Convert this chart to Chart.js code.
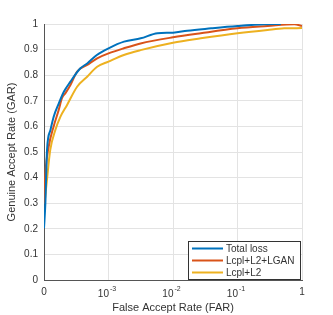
<!DOCTYPE html>
<html>
<head>
<meta charset="utf-8">
<script src="https://cdn.jsdelivr.net/npm/chart.js@4"></script>
<style>
  html, body { margin: 0; padding: 0; background: #fff; }
  #wrap { width: 333px; height: 315px; }
</style>
</head>
<body>
<div id="wrap"><canvas id="roc" width="333" height="315"></canvas></div>
<script>
// ROC curves (FAR on a log axis, 1e-4 shown as "0")
const seriesNames = ['Total loss', 'Lcpl+L2+LGAN', 'Lcpl+L2'];
const seriesColors = ['#0072BD', '#D95319', '#EDB120'];

const totalFar = [1e-4, 1.05e-4, 1.114e-4, 1.259e-4, 1.413e-4, 1.698e-4, 2.04e-4, 2.57e-4, 3.67e-4, 4.68e-4, 6.6e-4, 1e-3, 1.74e-3, 3.16e-3, 5.75e-3, 1e-2, 1.66e-2, 3.9e-2, 0.1, 0.257, 0.47];
const totalGar = [0.202, 0.30, 0.508, 0.586, 0.638, 0.69, 0.736, 0.775, 0.827, 0.846, 0.879, 0.905, 0.931, 0.944, 0.964, 0.966, 0.974, 0.983, 0.992, 0.999, 1.0];

const ganFar = [1e-4, 1.05e-4, 1.18e-4, 1.41e-4, 1.69e-4, 1.9e-4, 2.15e-4, 2.57e-4, 3.26e-4, 4.67e-4, 6.67e-4, 1e-3, 1.73e-3, 3.14e-3, 1e-2, 2.69e-2, 0.1, 0.292, 0.76, 1];
const ganGar = [0.30, 0.417, 0.52, 0.60, 0.664, 0.71, 0.73, 0.762, 0.814, 0.84, 0.866, 0.885, 0.905, 0.924, 0.948, 0.964, 0.983, 0.992, 0.999, 0.992];

const l2Far = [1.02e-4, 1.11e-4, 1.25e-4, 1.5e-4, 1.8e-4, 2.28e-4, 3.26e-4, 4.67e-4, 6.67e-4, 1e-3, 1.73e-3, 3.14e-3, 1e-2, 2.69e-2, 0.1, 0.292, 0.53, 1];
const l2Gar = [0.30, 0.39, 0.508, 0.586, 0.638, 0.684, 0.755, 0.794, 0.833, 0.853, 0.879, 0.898, 0.927, 0.944, 0.964, 0.977, 0.983, 0.984];

const xTickValues = [1e-4, 1e-3, 1e-2, 1e-1, 1];
// [base, exponent]; no exponent means a plain label
const xTickLabels = [['0', ''], ['10', '-3'], ['10', '-2'], ['10', '-1'], ['1', '']];

const pts = (xs, ys) => xs.map((x, i) => ({ x: x, y: ys[i] }));
const farData = [pts(totalFar, totalGar), pts(ganFar, ganGar), pts(l2Far, l2Gar)];

const FONT = 'Liberation Sans, Arial, sans-serif';
const TEXT = '#333';

// x tick labels with real superscripts (10^-3 ...)
const powerTicks = {
  id: 'powerTicks',
  afterDraw(chart) {
    const ctx = chart.ctx;
    const sx = chart.scales.x;
    ctx.save();
    ctx.fillStyle = TEXT;
    ctx.textBaseline = 'alphabetic';
    xTickValues.forEach((v, i) => {
      const px = sx.getPixelForValue(v);
      const [base, exp] = xTickLabels[i];
      if (!exp) {
        ctx.font = '10px ' + FONT;
        ctx.textAlign = 'center';
        ctx.fillText(base, px, 295);
        return;
      }
      ctx.font = '10px ' + FONT;
      const wb = ctx.measureText(base).width;
      ctx.font = '7px ' + FONT;
      const we = ctx.measureText(exp).width;
      const left = px - (wb + we) / 2 - 2;
      ctx.textAlign = 'left';
      ctx.font = '10px ' + FONT;
      ctx.fillText(base, left, 297);
      ctx.font = '7px ' + FONT;
      ctx.fillText(exp, left + wb + 1, 291);
    });
    ctx.restore();
  }
};

// legend drawn inside the plot, bottom right, like the MATLAB one
const boxLegend = {
  id: 'boxLegend',
  afterDraw(chart) {
    const ctx = chart.ctx;
    const x0 = 188.5, y0 = 241.5, w = 112, h = 38;
    ctx.save();
    ctx.fillStyle = '#fff';
    ctx.fillRect(x0, y0, w, h);
    ctx.strokeStyle = '#333';
    ctx.lineWidth = 1;
    ctx.strokeRect(x0, y0, w, h);
    ctx.font = '10px ' + FONT;
    ctx.textBaseline = 'middle';
    chart.data.datasets.forEach((ds, i) => {
      const y = 248.5 + i * 12;
      ctx.strokeStyle = ds.borderColor;
      ctx.lineWidth = 2;
      ctx.beginPath();
      ctx.moveTo(192, y);
      ctx.lineTo(223, y);
      ctx.stroke();
      ctx.fillStyle = TEXT;
      ctx.fillText(ds.label, 226, y + 0.5);
    });
    ctx.restore();
  }
};

new Chart(document.getElementById('roc').getContext('2d'), {
  type: 'line',
  data: {
    datasets: seriesNames.map((name, i) => ({
      label: name,
      data: farData[i],
      borderColor: seriesColors[i],
      backgroundColor: seriesColors[i],
      borderWidth: 2,
      pointRadius: 0,
      cubicInterpolationMode: 'monotone',
      fill: false
    }))
  },
  options: {
    responsive: false,
    animation: false,
    layout: { padding: { top: 24, right: 31, left: 0, bottom: 0 } },
    plugins: { legend: { display: false }, tooltip: { enabled: false } },
    scales: {
      x: {
        type: 'logarithmic',
        min: 1e-4,
        max: 1,
        afterBuildTicks: s => { s.ticks = xTickValues.map(v => ({ value: v })); },
        afterFit: s => { s.height = 35; },
        grid: { color: '#e3e3e3', drawTicks: false },
        border: { color: '#555' },
        ticks: { display: false },
        title: {
          display: true,
          text: 'False Accept Rate (FAR)',
          color: TEXT,
          font: { family: FONT, size: 11 },
          padding: { top: 2, bottom: 0 }
        }
      },
      y: {
        min: 0,
        max: 1,
        afterFit: s => { s.width = 44; },
        grid: { color: '#e3e3e3', drawTicks: false },
        border: { color: '#555' },
        ticks: {
          stepSize: 0.1,
          padding: 6,
          color: TEXT,
          font: { family: FONT, size: 10 },
          callback: v => String(+v.toFixed(1))
        },
        title: {
          display: true,
          text: 'Genuine Accept Rate (GAR)',
          color: TEXT,
          font: { family: FONT, size: 11 },
          padding: { top: 5, bottom: 0 }
        }
      }
    }
  },
  plugins: [powerTicks, boxLegend]
});
</script>
</body>
</html>
